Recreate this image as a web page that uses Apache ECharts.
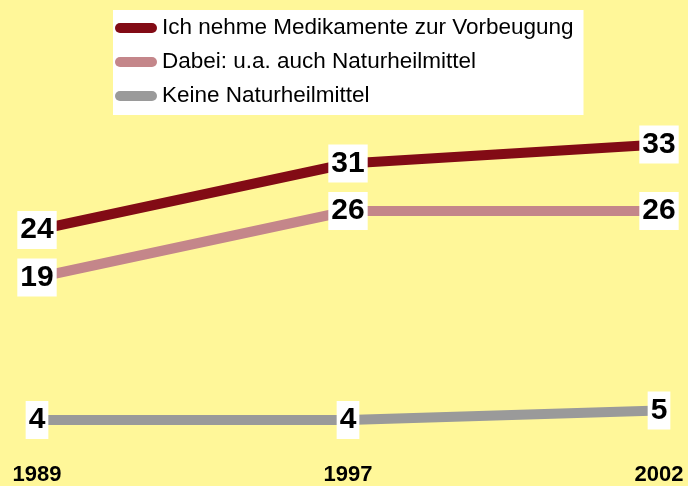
<!DOCTYPE html>
<html>
<head>
<meta charset="utf-8">
<script src="https://cdn.jsdelivr.net/npm/echarts@6/dist/echarts.min.js"></script>
<style>
  html, body { margin: 0; padding: 0; background: #fff799; }
  #chart { width: 688px; height: 486px; }
</style>
</head>
<body>
<div id="chart"></div>
<script>
var years = ['1989', '1997', '2002'];
var seriesNames = ['Ich nehme Medikamente zur Vorbeugung', 'Dabei: u.a. auch Naturheilmittel', 'Keine Naturheilmittel'];
var medikamente = [24, 31, 33];
var naturheilmittel = [19, 26, 26];
var keineNatur = [4, 4, 5];
var colors = ['#820b15', '#c4868a', '#9a9a9a'];

var chart = echarts.init(document.getElementById('chart'));

function makeSeries(name, data, color) {
    return {
        name: name,
        type: 'line',
        data: data,
        symbol: 'circle',
        symbolSize: 1,
        itemStyle: { color: color },
        lineStyle: { color: color, width: 10 },
        label: {
            show: true,
            position: 'inside',
            fontFamily: 'Liberation Sans',
            fontSize: 30,
            fontWeight: 'bold',
            color: '#000',
            backgroundColor: '#fff',
            padding: [4, 3, 4, 3]
        },
        emphasis: { disabled: true },
        animation: false
    };
}

var pill = 'path://M5,0H37A5,5,0,0,1,37,10H5A5,5,0,0,1,5,0Z';

chart.setOption({
    backgroundColor: '#fff799',
    textStyle: { fontFamily: 'Liberation Sans' },
    legend: {
        orient: 'vertical',
        left: 113,
        top: 10,
        padding: [6, 10, 7, 2],
        backgroundColor: '#fff',
        itemWidth: 42,
        itemHeight: 10,
        itemGap: 10,
        icon: pill,
        selectedMode: false,
        textStyle: { fontSize: 22.5, color: '#000', lineHeight: 24 },
        data: seriesNames
    },
    grid: { left: 37, right: 29, top: 78, bottom: 28 },
    xAxis: {
        type: 'category',
        data: years,
        boundaryGap: false,
        axisLine: { show: false },
        axisTick: { show: false },
        splitLine: { show: false },
        axisLabel: {
            margin: 6,
            fontSize: 22,
            fontWeight: 'bold',
            color: '#000'
        }
    },
    yAxis: {
        type: 'value',
        min: 0,
        max: 40,
        show: false,
        splitLine: { show: false }
    },
    series: [
        makeSeries(seriesNames[0], medikamente, colors[0]),
        makeSeries(seriesNames[1], naturheilmittel, colors[1]),
        makeSeries(seriesNames[2], keineNatur, colors[2])
    ]
});
</script>
</body>
</html>
